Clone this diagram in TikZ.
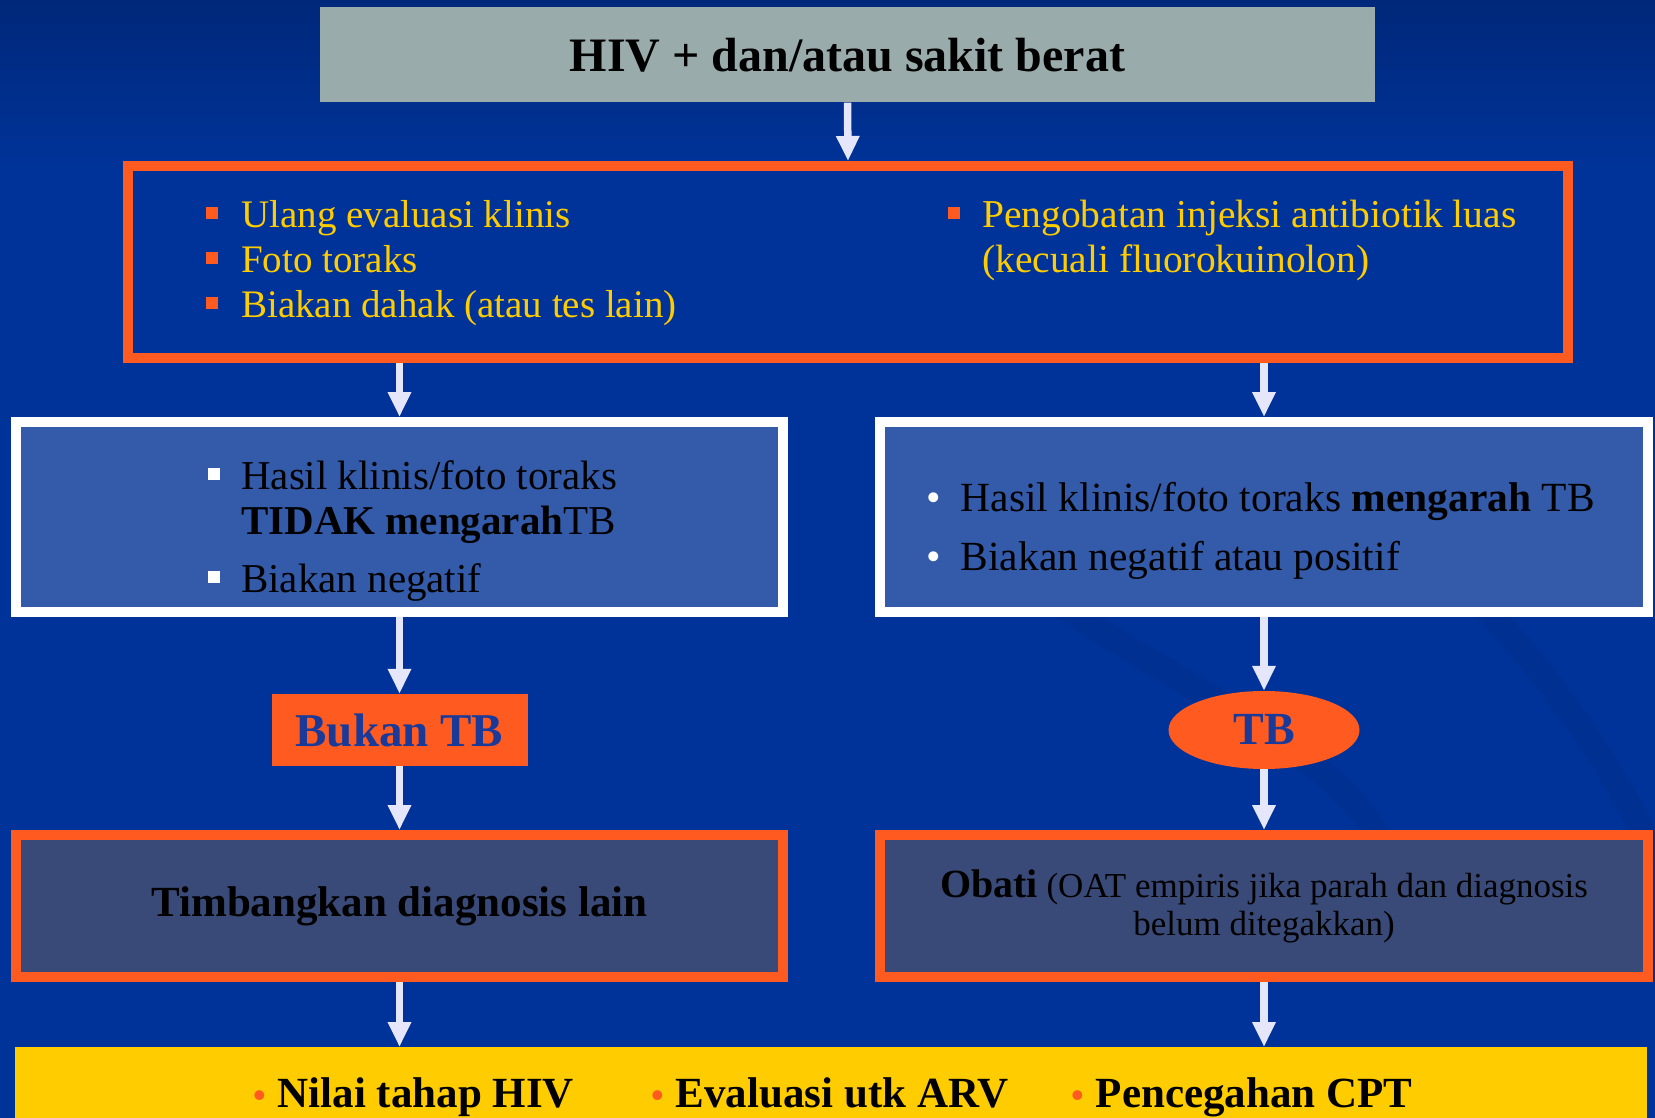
\documentclass[tikz,border=0pt]{standalone}
\usepackage{fontspec}
\setmainfont{Liberation Serif}
\usepackage{tikz}
\usetikzlibrary{arrows.meta,shapes.geometric}

\definecolor{bgblue}{HTML}{003399}
\definecolor{bgtop}{HTML}{00287A}
\definecolor{greyfill}{HTML}{9AABAB}
\definecolor{orangeC}{HTML}{FF5A1F}
\definecolor{yellowC}{HTML}{FFCC00}
\definecolor{midblue}{HTML}{335BAA}
\definecolor{slate}{HTML}{394A78}
\definecolor{arrowc}{HTML}{E6E6FA}
\definecolor{navytext}{HTML}{1A3A99}

\newcommand{\fsz}[2]{\fontsize{#1}{#2}\selectfont}
\newcommand{\sqb}[1]{\textcolor{#1}{\rule[9pt]{12pt}{12pt}}}
\newcommand{\obul}{{\fsz{36}{40}\textcolor{orangeC}{\textbullet}}\hspace{12pt}}

\tikzset{
    greybox/.style={fill=greyfill, inner sep=0},
    obox/.style={draw=orangeC, line width=10pt, fill=bgblue, inner sep=0},
    wbox/.style={draw=white, line width=10pt, fill=midblue, inner sep=0},
    sbox/.style={draw=orangeC, line width=10pt, fill=slate, inner sep=0},
    list/.style={anchor=base west, inner sep=0},
    arr/.style={draw=arrowc, line width=7.5pt, -{Triangle[width=22pt,length=25pt]}},
    swirl/.style={draw=black, opacity=0.045, line width=26pt}
}

\begin{document}
\begin{tikzpicture}[x=1pt,y=-1pt]
            \useasboundingbox (0,0) rectangle (1655,1118);
            \fill[bgblue] (0,0) rectangle (1655,1118);
            \shade[top color=bgtop, bottom color=bgblue] (0,0) rectangle (1655,170);
            \draw[swirl] (980,560) .. controls (990,470) and (1300,420) .. (1655,440);
            \draw[swirl] (1000,560) .. controls (1200,720) and (1430,760) .. (1400,960);
            \draw[swirl] (1440,560) .. controls (1580,700) and (1640,820) .. (1655,860);

            \node[greybox, minimum width=1055pt, minimum height=95pt] (hiv)     at (847.5,55)  {\fsz{48}{56}\bfseries HIV + dan/atau sakit berat};
            \node[obox,    minimum width=1440pt, minimum height=192pt] (evalbox) at (848,262)   {};
            \node[wbox,    minimum width=767pt,  minimum height=190pt] (lres)    at (399.5,517) {};
            \node[wbox,    minimum width=768pt,  minimum height=190pt] (rres)    at (1264,517)  {};
            \node[fill=orangeC, inner sep=0, minimum width=256pt, minimum height=72pt] (bukan) at (399.5,730) {\fsz{47}{50}\bfseries\color{navytext}Bukan TB};
            \node[ellipse, fill=orangeC, inner sep=0, minimum width=191pt, minimum height=78pt] (tb) at (1264,730) {\fsz{46}{50}\bfseries\color{navytext}TB};
            \node[sbox,    minimum width=767pt,  minimum height=142pt] (timbang) at (399.5,906) {\fsz{43}{48}\bfseries Timbangkan diagnosis lain};
            \node[sbox,    minimum width=768pt,  minimum height=142pt, align=center, font=\fsz{35}{38}] (obati) at (1264,906)
                {{\fsz{40}{38}\bfseries Obati} (OAT empiris jika parah dan diagnosis\\belum ditegakkan)};
            \node[fill=yellowC, inner sep=0, anchor=north west, minimum width=1632pt, minimum height=80pt] (nextbar) at (15,1047) {};

            \node[list, text=yellowC] (cekklinis) at (206,228) {\fsz{39}{45}\begin{tabular}[t]{@{}l@{\hspace{23pt}}l@{}}
                \sqb{orangeC} & Ulang evaluasi klinis\\
                \sqb{orangeC} & Foto toraks\\
                \sqb{orangeC} & Biakan dahak (atau tes lain)
            \end{tabular}};
            \node[list, text=yellowC] (antibiotik) at (948,228) {\fsz{39.5}{45}\begin{tabular}[t]{@{}l@{\hspace{22pt}}l@{}}
                \sqb{orangeC} & Pengobatan injeksi antibiotik luas\\
                              & (kecuali fluorokuinolon)
            \end{tabular}};
            \node[list] (tidaktb) at (208,489) {\fsz{41}{45}\begin{tabular}[t]{@{}l@{\hspace{21pt}}l@{}}
                \sqb{white} & Hasil klinis/foto toraks\\
                            & \textbf{TIDAK mengarah}TB\\[13pt]
                \sqb{white} & Biakan negatif
            \end{tabular}};
            \node[list] (arahtb) at (926,511) {\fsz{41.5}{45}\begin{tabular}[t]{@{}l@{\hspace{20pt}}l@{}}
                \textcolor{white}{\textbullet} & Hasil klinis/foto toraks \textbf{mengarah} TB\\[14pt]
                \textcolor{white}{\textbullet} & Biakan negatif atau positif
            \end{tabular}};

            \node[list] (nilai)   at (253,1107)  {\fsz{43}{48}\bfseries\obul Nilai tahap HIV};
            \node[list] (evalarv) at (651,1107)  {\fsz{43}{48}\bfseries\obul Evaluasi utk ARV};
            \node[list] (cpt)     at (1071,1107) {\fsz{43}{48}\bfseries\obul Pencegahan CPT};

            \draw[arr] (hiv.south) -- (evalbox.north);
            \draw[arr] (evalbox.south -| lres.north) -- (lres.north);
            \draw[arr] (evalbox.south -| rres.north) -- (rres.north);
            \draw[arr] (lres.south) -- (bukan.north);
            \draw[arr] (rres.south) -- (tb.north);
            \draw[arr] (bukan.south) -- (timbang.north);
            \draw[arr] (tb.south) -- (obati.north);
            \draw[arr] (timbang.south) -- (timbang.south |- nextbar.north);
            \draw[arr] (obati.south) -- (obati.south |- nextbar.north);
\end{tikzpicture}
\end{document}
